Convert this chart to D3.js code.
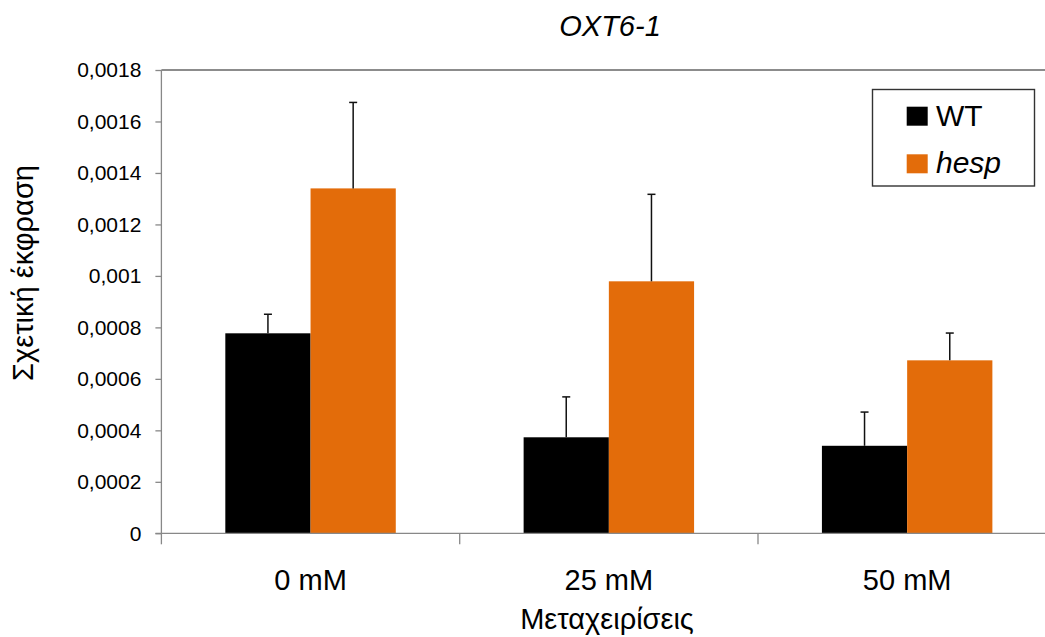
<!DOCTYPE html>
<html>
<head>
<meta charset="utf-8">
<script src="https://cdn.jsdelivr.net/npm/d3@7"></script>
<style>
html,body{margin:0;padding:0;background:#fff;}
svg{display:block;font-family:"Liberation Sans",Arial,sans-serif;}
</style>
</head>
<body>
<svg id="chart" width="1045" height="637"></svg>
<script>
const categories = ["0 mM", "25 mM", "50 mM"];
const seriesNames = ["WT", "hesp"];
const wtValues = [0.000777, 0.000373, 0.000340];
const wtErrors = [0.000074, 0.000157, 0.000131];
const hespValues = [0.001340, 0.000979, 0.000672];
const hespErrors = [0.000334, 0.000338, 0.000106];
const yTickValues = [0, 0.0002, 0.0004, 0.0006, 0.0008, 0.001, 0.0012, 0.0014, 0.0016, 0.0018];
const yTickLabels = ["0", "0,0002", "0,0004", "0,0006", "0,0008", "0,001", "0,0012", "0,0014", "0,0016", "0,0018"];
const chartTitle = "OXT6-1";
const xTitle = "Μεταχειρίσεις";
const yTitle = "Σχετική έκφραση";
const colors = {WT: "#000000", hesp: "#E36C0A"};

(function () {
const svg = d3.select("#chart");
const pLeft = 161.4, pRight = 1056.3, pTop = 70, pBottom = 533.3;

const x = d3.scaleBand().domain(categories).range([pLeft, pRight]).paddingInner(0).paddingOuter(0);
const xs = d3.scaleBand().domain(seriesNames).range([0, x.bandwidth()]).paddingInner(0).paddingOuter(0.75);
const y = d3.scaleLinear().domain([0, 0.0018]).range([pBottom, pTop]);

svg.append("line").attr("x1", pLeft).attr("x2", pRight).attr("y1", pTop).attr("y2", pTop)
  .attr("stroke", "#666").attr("stroke-width", 1.3);

const data = [];
categories.forEach((c, i) => {
  data.push({cat: c, s: "WT", v: wtValues[i], e: wtErrors[i]});
  data.push({cat: c, s: "hesp", v: hespValues[i], e: hespErrors[i]});
});

const g = svg.append("g");
g.selectAll("rect.bar").data(data).enter().append("rect")
  .attr("class", "bar")
  .attr("x", d => x(d.cat) + xs(d.s))
  .attr("width", xs.bandwidth())
  .attr("y", d => y(d.v))
  .attr("height", d => y(0) - y(d.v))
  .attr("fill", d => colors[d.s]);

const eb = g.selectAll("g.err").data(data).enter().append("g").attr("class", "err");
eb.append("line")
  .attr("x1", d => x(d.cat) + xs(d.s) + xs.bandwidth() / 2)
  .attr("x2", d => x(d.cat) + xs(d.s) + xs.bandwidth() / 2)
  .attr("y1", d => y(d.v))
  .attr("y2", d => y(d.v + d.e))
  .attr("stroke", "#111").attr("stroke-width", 1.5);
eb.append("line")
  .attr("x1", d => x(d.cat) + xs(d.s) + xs.bandwidth() / 2 - 4)
  .attr("x2", d => x(d.cat) + xs(d.s) + xs.bandwidth() / 2 + 4)
  .attr("y1", d => y(d.v + d.e))
  .attr("y2", d => y(d.v + d.e))
  .attr("stroke", "#111").attr("stroke-width", 1.5);

const yAxis = d3.axisLeft(y).tickValues(yTickValues)
  .tickFormat((d, i) => yTickLabels[i]).tickSize(6).tickPadding(14);
const ya = svg.append("g").attr("transform", `translate(${pLeft},0)`).call(yAxis);
ya.select(".domain").attr("stroke", "#888").attr("stroke-width", 1.3).attr("d", `M0,${pTop}V${pBottom}`);
ya.selectAll(".tick line").attr("stroke", "#888").attr("stroke-width", 1.3);
ya.selectAll(".tick text").attr("font-size", 21).attr("fill", "#000")
  .attr("font-family", "'Liberation Sans', Arial, sans-serif");

const xa = svg.append("g").attr("transform", `translate(0,${pBottom})`);
xa.append("line").attr("x1", pLeft - 6).attr("x2", pRight).attr("y1", 0).attr("y2", 0)
  .attr("stroke", "#888").attr("stroke-width", 1.3);
const boundaries = categories.map(c => x(c)).concat([x(categories[categories.length - 1]) + x.bandwidth()]);
xa.selectAll("line.tk").data(boundaries).enter().append("line").attr("class", "tk")
  .attr("x1", d => d).attr("x2", d => d).attr("y1", 0).attr("y2", 11)
  .attr("stroke", "#888").attr("stroke-width", 1.3);
xa.selectAll("text.cat").data(categories).enter().append("text").attr("class", "cat")
  .attr("x", d => x(d) + x.bandwidth() / 2)
  .attr("y", 57)
  .attr("text-anchor", "middle")
  .attr("font-size", 29)
  .attr("fill", "#000")
  .text(d => d);

svg.append("text").attr("x", 610).attr("y", 36).attr("text-anchor", "middle")
  .attr("font-size", 29).attr("font-style", "italic").attr("fill", "#000").text(chartTitle);
svg.append("text").attr("x", 607).attr("y", 629).attr("text-anchor", "middle")
  .attr("font-size", 29).attr("fill", "#000").text(xTitle);
svg.append("text").attr("transform", "translate(33,273) rotate(-90)").attr("text-anchor", "middle")
  .attr("font-size", 29).attr("fill", "#000").text(yTitle);

const lg = svg.append("g");
lg.append("rect").attr("x", 872.5).attr("y", 89.5).attr("width", 162).attr("height", 96.5)
  .attr("fill", "#fff").attr("stroke", "#333").attr("stroke-width", 1.4);
seriesNames.forEach((s, i) => {
  const yy = 106.7 + i * 47.6;
  lg.append("rect").attr("x", 906.7).attr("y", yy).attr("width", 21).attr("height", 19).attr("fill", colors[s]);
  lg.append("text").attr("x", 936).attr("y", yy + 19).attr("font-size", 30)
    .attr("font-style", s === "hesp" ? "italic" : "normal").attr("fill", "#000").text(s);
});
})();
</script>
</body>
</html>
